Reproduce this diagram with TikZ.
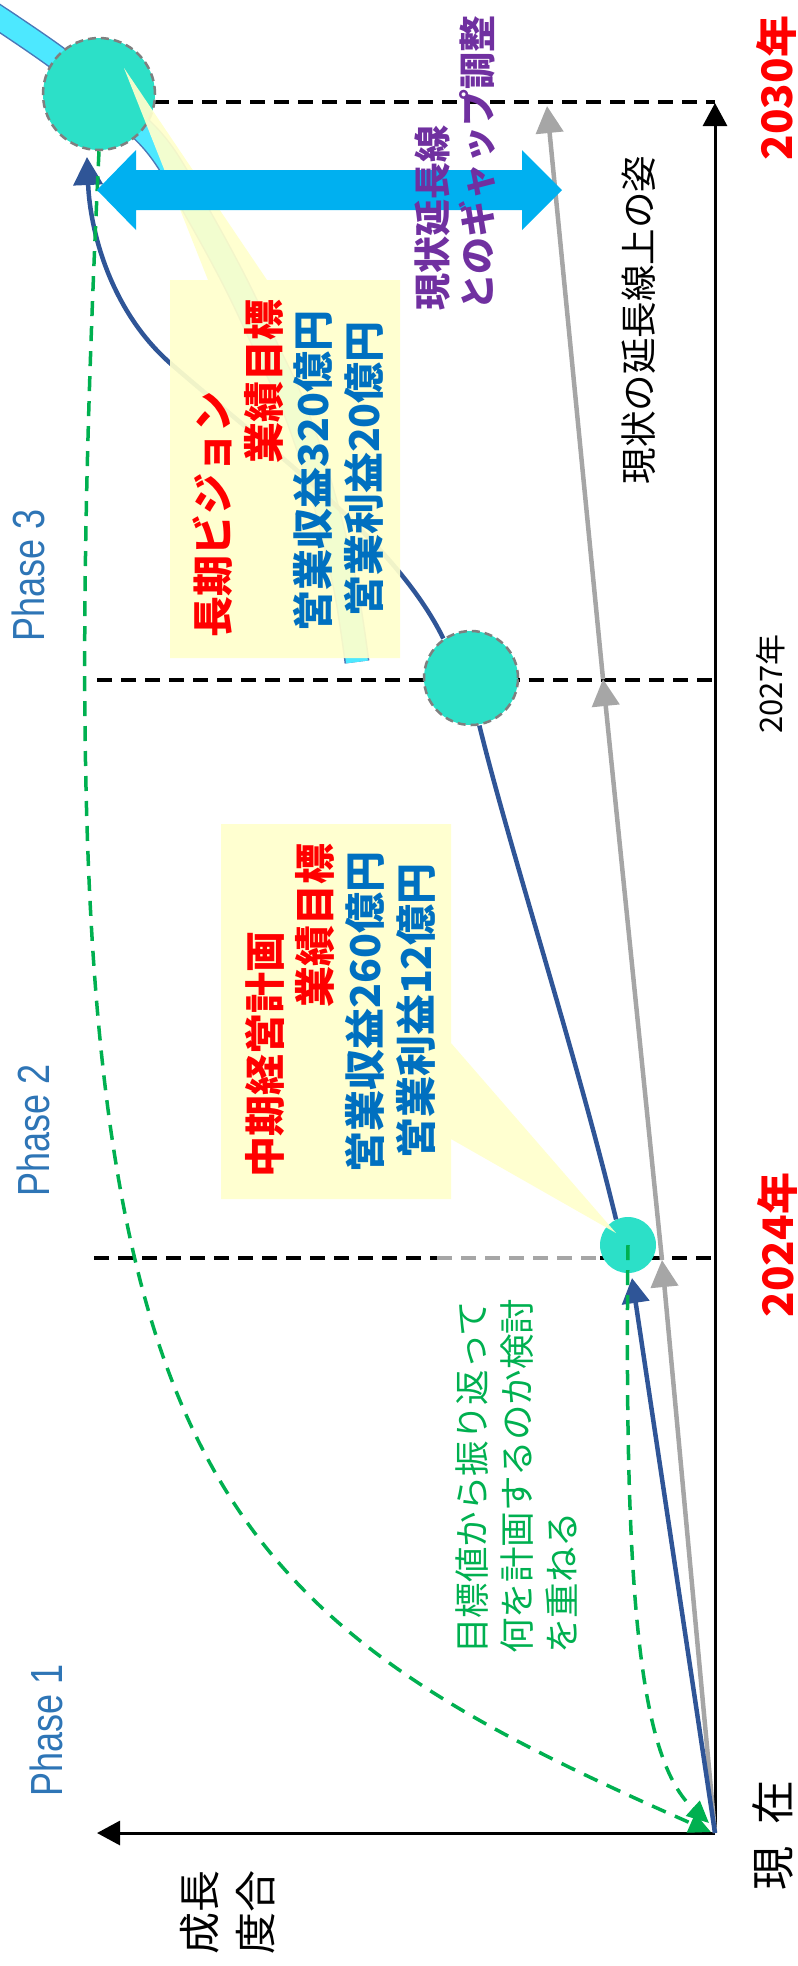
\documentclass[tikz,border=0pt]{standalone}
\usepackage{fontspec}
\setmainfont{Liberation Sans}
\newfontfamily\jp{Noto Sans CJK JP}
\usetikzlibrary{arrows.meta}
\definecolor{navy}{HTML}{2F5597}
\definecolor{garrow}{HTML}{A6A6A6}
\definecolor{grn}{HTML}{00B050}
\definecolor{turq}{HTML}{2CE0C8}
\definecolor{cgray}{HTML}{7F7F7F}
\definecolor{yel}{HTML}{FFFFCC}
\definecolor{acyan}{HTML}{00B0F0}
\definecolor{bandfill}{HTML}{4DE8FF}
\definecolor{bandedge}{HTML}{4A78B8}
\definecolor{phase}{HTML}{2E75B6}
\definecolor{jred}{HTML}{FF0000}
\definecolor{jblue}{HTML}{0070C0}
\definecolor{jpurple}{HTML}{7030A0}
\newcommand{\myfs}[1]{\fontsize{#1pt}{#1pt}\selectfont}
\newcommand{\narrow}[1]{\scalebox{0.8}[1]{#1}}
\begin{document}
\begin{tikzpicture}[x=1pt,y=-1pt,
  rot/.style={rotate=90, inner sep=0pt},
  navyline/.style={draw=navy, line width=4.5pt},
  grayline/.style={draw=garrow, line width=4.5pt, -{Triangle[length=27pt,width=27pt]}},
  greendash/.style={draw=grn, line width=3.5pt, dash pattern=on 15pt off 10pt, -{Triangle[length=22pt,width=20pt]}},
  tdash/.style={line width=3.2pt, dash pattern=on 15pt off 9pt},
  axisline/.style={draw=black, line width=3pt, -{Triangle[length=23pt,width=24pt]}},
  goal/.style={circle, fill=turq, inner sep=0pt},
  goalb/.style={goal, draw=cgray, line width=2.5pt, dash pattern=on 8pt off 5pt},
  callout/.style={fill=yel, fill opacity=0.93},
  boxred/.style={rot, text=jred, font=\jp\bfseries\myfs{41}},
  boxblue/.style={rot, text=jblue, font=\jp\bfseries\myfs{41}},
  phasetxt/.style={rot, text=phase, font=\myfs{45}},
]
\useasboundingbox (0,0) rectangle (798,1966);

% coordinates
\coordinate (O) at (715,1833);
\coordinate (yTop) at (715,103);
\coordinate (xEnd) at (97,1833);
\coordinate (d30a) at (130,102);
\coordinate (d30b) at (715,102);
\coordinate (d27a) at (97,680);
\coordinate (d27b) at (715,680);
\coordinate (d24a) at (94,1258);
\coordinate (d24g) at (437,1258);
\coordinate (d24h) at (600,1258);
\coordinate (d24b) at (715,1258);
\coordinate (g1) at (662,1260);
\coordinate (g2) at (603,679);
\coordinate (g3) at (547,106);
\coordinate (n1) at (632,1278);
\coordinate (n3) at (87,157);
\coordinate (gA) at (711,1832);
\coordinate (gB) at (709,1823);

% cyan band
\draw[bandedge, line width=25pt] plot[smooth, tension=0.6] coordinates {(-10,12) (60,60) (120,110) (160,150) (197,212) (234,280) (265,345) (295,410) (323,495) (345,585) (357,662)};
\draw[bandfill, line width=22pt] plot[smooth, tension=0.6] coordinates {(-10,12) (60,60) (120,110) (160,150) (197,212) (234,280) (265,345) (295,410) (323,495) (345,585) (357,662)};

% time lines
\draw[tdash, black] (d30a) -- (d30b);
\draw[tdash, black] (d27a) -- (d27b);
\draw[tdash, black] (d24a) -- (d24g);
\draw[tdash, garrow] (d24g) -- (d24h);
\draw[tdash, black] (d24h) -- (d24b);

% axes
\draw[axisline] (O) -- (yTop);
\draw[axisline] (O) -- (xEnd);

% current trend (gray)
\draw[grayline] (O) -- (g1);
\draw[grayline] (g1) -- (g2);
\draw[grayline] (g2) -- (g3);

% goal circles
\node[goalb, minimum size=112pt] (c2030) at (99,94) {};
\node[goalb, minimum size=94pt] (c2027) at (471,678) {};
\node[goal, minimum size=56pt] (c2024) at (628,1245) {};

% planned path (navy)
\draw[navyline, -{Triangle[length=25pt,width=27pt]}] (O) -- (n1);
\draw[navyline] (c2024.115) .. controls (575,1050) and (510,850) .. (c2027.280);
\draw[navyline, -{Triangle[length=28pt,width=29pt]}] (c2027.125) .. controls (395,540) and (270,450) .. (170,363) .. controls (110,310) and (90,230) .. (n3);

% backcasting (green dashed)
\draw[greendash] (c2030.south) .. controls (37,1452) and (166,1592) .. (gA);
\draw[greendash] (c2024.center) .. controls (624,1600) and (640,1760) .. (gB);

% callouts
\path[callout] (170,280) -- (208,280) -- (124,68) -- (267,280) -- (400,280) -- (400,658) -- (170,658) -- cycle;
\path[callout] (221,824) -- (451,824) -- (451,1043) -- (616,1233) -- (451,1139) -- (451,1199) -- (221,1199) -- cycle;

% gap arrow
\fill[acyan] (97,190) -- (136,150) -- (136,170) -- (522,170) -- (522,150) -- (562,190) -- (522,230) -- (522,210) -- (136,210) -- (136,230) -- cycle;

% callout texts
\node[boxred] (b3a) at (213,514) {長期ビジョン};
\node[boxred] (b3b) at (264,381) {業績目標};
\node[boxblue] (b3c) at (313,471) {営業収益320億円};
\node[boxblue] (b3d) at (364,469) {営業利益20億円};
\node[boxred] (b2a) at (265,1054) {中期経営計画};
\node[boxred] (b2b) at (315,925) {業績目標};
\node[boxblue] (b2c) at (365,1012) {営業収益260億円};
\node[boxblue] (b2d) at (416,1011) {営業利益12億円};

% other labels
\node[rot, anchor=west, align=left, text=jpurple, font=\jp\bfseries\fontsize{37pt}{45pt}\selectfont] (gap) at (455,311) {現状延長線\\とのギャップ調整};
\node[rot, font=\jp\myfs{36.5}] (trend) at (639,320) {現状の延長線上の姿};
\node[rot, anchor=west, align=left, text=grn, font=\jp\fontsize{35.5pt}{45pt}\selectfont] (back) at (516,1654) {目標値から振り返って\\何を計画するのか検討\\を重ねる};

\node[phasetxt] (p1) at (46,1730) {\narrow{Phase 1}};
\node[phasetxt] (p2) at (33,1130) {\narrow{Phase 2}};
\node[phasetxt] (p3) at (28,575) {\narrow{Phase 3}};

\node[rot, text=jred, font=\jp\bfseries\myfs{42}] (y30) at (776,88) {2030年};
\node[rot, font=\jp\myfs{31}] (y27) at (771,684) {2027年};
\node[rot, text=jred, font=\jp\bfseries\myfs{42}] (y24) at (777,1245) {2024年};
\node[rot, font=\jp\myfs{44}] (now) at (773,1835) {現\hspace{0.5em}在};
\node[rot, anchor=west, align=left, font=\jp\fontsize{42pt}{56pt}\selectfont] (growth) at (228,1955) {成長\\度合};
\end{tikzpicture}
\end{document}
